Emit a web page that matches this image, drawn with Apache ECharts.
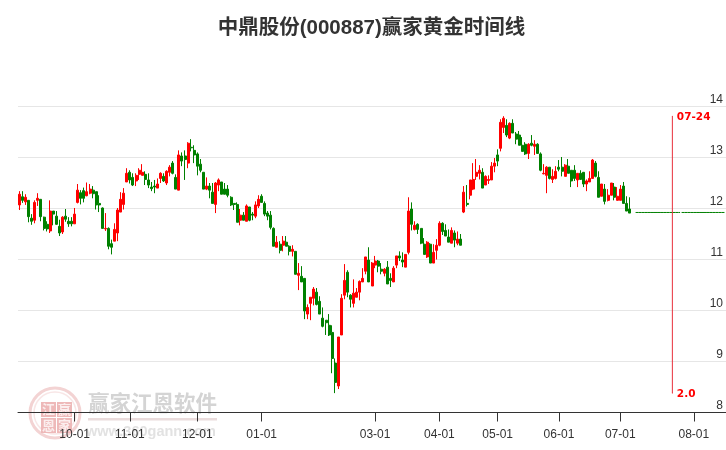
<!DOCTYPE html>
<html><head><meta charset="utf-8">
<style>html,body{margin:0;padding:0;background:#fff}#c{width:726px;height:450px}</style>
<script src="https://cdn.jsdelivr.net/npm/echarts@6/dist/echarts.min.js"></script>
</head><body><div id="c"></div>
<script>
const titleText = '中鼎股份(000887)赢家黄金时间线';
const categoryCount = 231;
const tickLabels = ['10-01','11-01','12-01','01-01','03-01','04-01','05-01','06-01','07-01','08-01'];
const tickIndices = [18,36,58,79,116,137,156,176,196,220];
const yTicks = [8,9,10,11,12,13,14];
const holdPrice = 11.922;
const markerIndex = 213;
const markerDate = '07-24';
const markerSpan = 2.0;
const markerHigh = 13.81;
const markerLow = 8.38;
// [open, close, low, high]
const candles = [
[12.07,12.28,11.97,12.34],[12.23,12.16,12.11,12.34],[12.13,12.22,12.07,12.28],[12.16,11.84,11.73,12.16],[11.81,11.75,11.68,11.89],
[11.77,12.12,11.71,12.16],[12.16,12.20,12.05,12.30],[12.18,11.84,11.75,12.18],[11.83,11.61,11.57,11.84],[11.69,11.60,11.55,11.75],
[11.56,11.95,11.52,12.16],[11.95,11.89,11.67,11.95],[11.85,11.69,11.68,11.95],[11.65,11.52,11.46,11.78],[11.54,11.83,11.50,11.85],
[11.85,11.79,11.74,11.99],[11.75,11.70,11.64,11.83],[11.75,11.70,11.65,11.83],[11.70,11.89,11.70,12.01],[12.12,12.36,12.10,12.48],
[12.31,12.20,12.08,12.36],[12.35,12.20,12.12,12.41],[12.25,12.33,12.24,12.51],[12.30,12.38,12.28,12.48],[12.36,12.29,12.20,12.44],
[12.33,12.07,11.98,12.33],[12.10,12.07,11.93,12.26],[12.01,11.61,11.61,12.02],[11.60,11.61,11.56,11.91],[11.61,11.26,11.20,11.63],
[11.31,11.24,11.10,11.39],[11.36,11.59,11.36,11.71],[11.52,11.97,11.36,12.01],[11.93,12.18,11.93,12.32],[12.08,12.30,11.98,12.40],
[12.52,12.69,12.52,12.79],[12.71,12.56,12.49,12.75],[12.61,12.46,12.44,12.69],[12.54,12.65,12.44,12.69],[12.67,12.75,12.56,12.79],
[12.65,12.71,12.65,12.87],[12.67,12.57,12.46,12.73],[12.56,12.46,12.40,12.69],[12.42,12.39,12.34,12.52],[12.44,12.42,12.30,12.56],
[12.40,12.48,12.40,12.59],[12.59,12.69,12.50,12.71],[12.63,12.54,12.52,12.69],[12.50,12.73,12.46,12.75],[12.71,12.81,12.63,12.85],
[12.89,12.69,12.67,12.93],[12.61,12.38,12.38,12.67],[12.36,13.05,12.36,13.14],[13.03,12.93,12.83,13.10],[13.03,12.96,12.56,13.14],
[12.89,13.28,12.79,13.30],[13.20,13.19,13.12,13.36],[13.14,13.05,12.89,13.24],[13.07,12.83,12.65,13.10],[12.87,12.75,12.71,12.97],
[12.71,12.38,12.38,12.71],[12.38,12.44,12.36,12.61],[12.44,12.36,12.20,12.50],[12.32,12.10,12.10,12.50],[12.08,12.50,11.91,12.52],
[12.46,12.56,12.34,12.59],[12.52,12.28,12.28,12.52],[12.38,12.28,12.28,12.50],[12.38,12.26,12.22,12.46],[12.22,12.07,12.05,12.24],
[12.10,12.08,11.97,12.10],[12.08,11.73,11.73,12.12],[11.77,11.87,11.67,11.99],[11.87,11.77,11.77,11.93],[11.75,12.05,11.75,12.08],
[12.03,11.77,11.75,12.03],[11.89,11.87,11.77,11.93],[11.85,12.07,11.81,12.14],[12.05,12.18,12.01,12.26],[12.24,12.12,12.12,12.28],
[12.10,11.89,11.85,12.14],[11.91,11.85,11.77,11.95],[11.87,11.63,11.59,11.95],[11.61,11.26,11.26,11.63],[11.24,11.34,11.24,11.46],
[11.30,11.18,11.12,11.36],[11.28,11.36,11.16,11.46],[11.34,11.26,11.26,11.46],[11.26,11.16,11.08,11.28],[11.16,11.20,11.06,11.28],
[11.16,10.71,10.71,11.16],[10.69,10.73,10.40,10.93],[10.67,10.56,10.56,10.87],[10.63,9.99,9.83,10.63],[9.93,10.06,9.83,10.12],
[10.14,10.26,9.81,10.26],[10.24,10.42,10.10,10.46],[10.36,10.12,10.10,10.44],[10.18,9.93,9.93,10.28],[9.85,9.69,9.67,10.06],
[9.81,9.76,9.52,9.81],[9.71,9.52,9.50,9.93],[9.57,9.06,8.77,9.71],[8.97,8.59,8.38,9.06],[8.52,9.48,8.46,9.48],
[9.52,10.24,9.52,10.32],[10.30,10.59,10.22,10.91],[10.75,10.36,10.26,10.79],[10.30,10.22,10.06,10.32],[10.14,10.34,10.06,10.61],
[10.26,10.36,10.26,10.44],[10.36,10.57,10.20,10.59],[10.56,10.63,10.56,10.83],[10.77,11.05,10.71,11.05],[10.99,10.56,10.56,11.24],
[10.48,10.93,10.48,10.95],[10.89,10.97,10.83,11.07],[10.97,10.87,10.75,10.99],[10.81,10.77,10.71,10.93],[10.73,10.81,10.67,10.83],
[10.85,10.52,10.52,10.97],[10.63,10.59,10.46,10.73],[10.56,10.83,10.56,10.87],[10.89,11.07,10.83,11.07],[11.07,11.03,10.97,11.16],
[10.99,10.95,10.85,11.14],[10.85,11.10,10.85,11.10],[11.14,11.95,11.10,12.22],[11.99,11.69,11.57,12.12],[11.59,11.67,11.57,11.75],
[11.69,11.59,11.50,11.71],[11.61,11.32,11.30,11.61],[11.30,11.10,11.10,11.42],[11.05,11.34,11.03,11.36],[11.30,10.93,10.93,11.32],
[10.93,11.14,10.93,11.30],[11.18,11.28,11.00,11.40],[11.28,11.71,11.26,11.75],[11.71,11.55,11.48,11.73],[11.57,11.46,11.46,11.69],
[11.44,11.34,11.34,11.59],[11.32,11.57,11.32,11.63],[11.52,11.38,11.24,11.57],[11.32,11.40,11.28,11.55],[11.40,11.28,11.28,11.50],
[11.93,12.32,11.91,12.44],[12.10,12.08,12.04,12.46],[12.26,12.56,12.18,12.56],[12.38,12.57,12.36,12.89],[12.63,12.71,12.56,12.97],
[12.69,12.75,12.57,12.85],[12.71,12.40,12.40,12.79],[12.46,12.63,12.46,12.65],[12.55,12.57,12.48,12.65],[12.56,12.83,12.56,12.91],
[12.83,12.89,12.71,12.99],[13.05,12.93,12.83,13.16],[13.18,13.69,13.12,13.75],[13.59,13.77,13.48,13.81],[13.63,13.44,13.40,13.75],
[13.38,13.67,13.36,13.69],[13.67,13.48,13.48,13.75],[13.46,13.36,13.26,13.50],[13.44,13.24,13.24,13.52],[13.24,13.12,13.12,13.40],
[13.26,13.07,13.05,13.30],[13.08,13.26,12.97,13.28],[13.28,13.24,13.22,13.44],[13.22,13.26,13.05,13.34],[13.26,13.08,13.07,13.28],
[13.07,12.75,12.73,13.10],[12.68,12.69,12.67,12.87],[12.65,12.81,12.30,12.83],[12.81,12.59,12.57,12.81],[12.57,12.63,12.50,12.77],
[12.59,12.73,12.57,12.83],[12.81,12.77,12.73,12.95],[12.81,12.73,12.63,13.01],[12.63,12.85,12.63,12.87],[12.83,12.69,12.69,12.97],
[12.75,12.54,12.42,12.75],[12.75,12.59,12.54,12.85],[12.56,12.69,12.42,12.69],[12.69,12.57,12.56,12.75],[12.71,12.48,12.42,12.71],
[12.48,12.54,12.34,12.57],[12.52,12.59,12.52,12.73],[12.59,12.95,12.59,12.97],[12.89,12.63,12.61,12.93],[12.61,12.22,12.22,12.73],
[12.24,12.48,12.24,12.48],[12.38,12.14,12.08,12.48],[12.16,12.26,12.14,12.38],[12.26,12.50,12.26,12.50],[12.42,12.22,12.16,12.50],
[12.16,12.24,12.16,12.42],[12.16,12.38,12.16,12.46],[12.44,12.10,12.10,12.52],[12.10,11.95,11.95,12.24],[11.99,11.91,11.91,12.22]
];

const categories = Array.from({length: categoryCount}, (_, i) => {
  const k = tickIndices.indexOf(i);
  return k >= 0 ? tickLabels[k] : '';
});
const holdLine = categories.map((_, i) => i > candles.length ? holdPrice : null);
const showTick = (i) => tickIndices.indexOf(i) >= 0;
const sans = '"Liberation Sans", Arial, "Noto Sans CJK SC", sans-serif';

const wmPink = '#eeb9b9';
const sealCells = [
  {x:41,y:402,t:'江'},{x:57,y:402,t:'赢'},{x:41,y:418,t:'恩'},{x:57,y:418,t:'家'}
];
const watermark = [
  {type:'circle',z:-5,shape:{cx:55,cy:413,r:25},style:{fill:'none',stroke:'#f3d3d3',lineWidth:3}},
  {type:'circle',z:-5,shape:{cx:55,cy:413,r:21},style:{fill:'none',stroke:'#f8e6e6',lineWidth:1.5}}
];
sealCells.forEach(c => {
  watermark.push({type:'rect',z:-5,shape:{x:c.x,y:c.y,width:15,height:15},style:{fill:wmPink}});
  watermark.push({type:'text',z:-4,style:{x:c.x+7.5,y:c.y+7.5,text:c.t,fill:'#fbeeee',font:'bold 13px "Noto Sans CJK SC"',textAlign:'center',textVerticalAlign:'middle'}});
});
watermark.push(
  {type:'text',z:-5,style:{x:152.5,y:403,text:'赢家江恩软件',fill:'#d4d4d4',font:'bold 21.5px "Noto Sans CJK SC"',textAlign:'center',textVerticalAlign:'middle'}},
  {type:'rect',z:-5,shape:{x:88,y:418,width:129,height:2.5},style:{fill:'#eadcdc'}},
  {type:'text',z:-5,style:{x:151,y:432,text:'www.360gann.com',fill:'#e2e2e2',font:'bold 14.5px "Liberation Sans"',textAlign:'center',textVerticalAlign:'middle'}}
);

const chart = echarts.init(document.getElementById('c'), null, {renderer:'canvas'});
chart.setOption({
  animation:false,
  backgroundColor:'#ffffff',
  title:{text:titleText,left:366.5,top:11,textAlign:'center',
    textStyle:{fontFamily:sans,fontSize:20.5,fontWeight:'bold',color:'#333333',lineHeight:24}},
  grid:{left:18,right:0,top:106.5,bottom:37.5,containLabel:false},
  xAxis:{type:'category',data:categories,boundaryGap:true,
    axisLine:{show:true,onZero:false,lineStyle:{color:'#333333',width:1}},
    axisTick:{show:true,alignWithLabel:true,length:9,interval:showTick,lineStyle:{color:'#333333',width:1}},
    axisLabel:{show:true,interval:showTick,margin:16,fontFamily:sans,fontSize:12,color:'#333333'},
    splitLine:{show:false}},
  yAxis:{type:'value',position:'right',min:yTicks[0],max:yTicks[yTicks.length-1],interval:1,
    axisLine:{show:false},axisTick:{show:false},
    axisLabel:{inside:true,margin:3,verticalAlign:'bottom',fontFamily:sans,fontSize:12,color:'#333333',
      lineHeight:13},
    splitLine:{show:true,lineStyle:{color:'#e6e6e6',width:1}}},
  graphic:{elements:watermark},
  series:[
    {type:'candlestick',data:candles,barWidth:2.5,clip:false,
     itemStyle:{color:'#ff0000',color0:'#008000',borderColor:'#ff0000',borderColor0:'#008000',borderWidth:1}},
    {type:'line',data:holdLine,symbol:'none',connectNulls:false,
     lineStyle:{color:'#008000',width:1,type:[44.5,1.5,100,0]}},
    {type:'line',symbol:'circle',symbolSize:1,showAllSymbol:true,clip:false,
     lineStyle:{color:'#e8303c',width:1},itemStyle:{color:'#e8303c'},
     data:[
      {value:[markerIndex,markerHigh],label:{show:true,position:'right',distance:4,offset:[0,1],formatter:markerDate,
        fontFamily:'"DejaVu Sans"',fontWeight:'bold',fontSize:10.5,color:'#ff0000'}},
      {value:[markerIndex,markerLow],label:{show:true,position:'right',distance:4,offset:[0,1],formatter:markerSpan.toFixed(1),
        fontFamily:'"DejaVu Sans"',fontWeight:'bold',fontSize:10.5,color:'#ff0000'}}
     ]}
  ]
});
</script></body></html>
